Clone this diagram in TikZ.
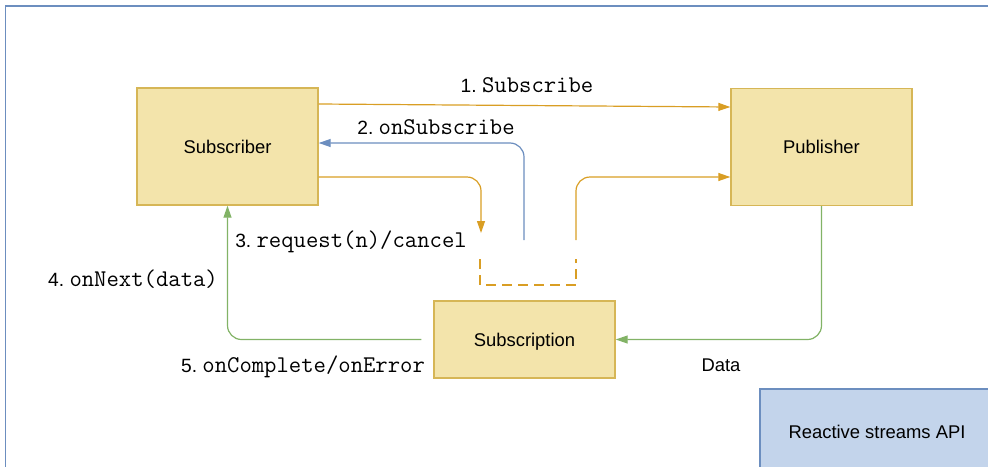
\documentclass[tikz,border=0pt]{standalone}
\usepackage{fontspec}
\setmainfont{Liberation Sans}
\usetikzlibrary{arrows.meta}
\definecolor{boxfill}{HTML}{F3E4AB}
\definecolor{boxline}{HTML}{D6B656}
\definecolor{apifill}{HTML}{C3D4EB}
\definecolor{apiline}{HTML}{6C8EBF}
\definecolor{callorange}{HTML}{D99E24}
\definecolor{backblue}{HTML}{6C8EBF}
\definecolor{datagreen}{HTML}{82B366}
\tikzset{
  actor/.style={draw=boxline, fill=boxfill, line width=0.7pt, minimum width=90.5pt, minimum height=58.5pt, text depth=0pt, font=\fontsize{9.2}{11}\selectfont},
  flow/.style={line width=0.6pt, rounded corners=7pt, -{Triangle[length=6pt,width=4pt]}},
  lbl/.style={font=\fontsize{9.6}{12}\selectfont, inner sep=0pt},
}
\newcommand{\step}[2]{#1\ {\fontsize{12}{13}\selectfont\texttt{#2}}}
\begin{document}
\begin{tikzpicture}[x=0.5pt,y=-0.5pt]
\clip (0,0) rectangle (988,466);
% Frame
\draw[apiline, line width=0.8pt] (5.5,480) -- (5.5,6) -- (1000,6);
% Boxes
\node[actor] (sub) at (227.5,146.5) {Subscriber};
\node[actor] (pub) at (821.5,147) {Publisher};
\node[actor, minimum height=38.5pt] (subn) at (524.5,339.5) {Subscription};
\node[draw=apiline, fill=apifill, line width=0.7pt, minimum width=117pt, minimum height=43pt, text depth=0pt, font=\fontsize{9.2}{11}\selectfont] (api) at (877,432) {Reactive streams API};
% Free ends
\coordinate (b2) at (524,240);
\coordinate (r3) at (481,233);
\coordinate (r4) at (576,240);
% 1. Subscribe
\draw[flow, callorange] (sub.east |- 0,104) -- (pub.west |- 0,107);
\node[lbl] at (527,85) {\step{1.}{Subscribe}};
% 2. onSubscribe
\draw[flow, backblue] (b2) |- (sub.east |- 0,143);
\node[lbl] at (436,127) {\step{2.}{onSubscribe}};
% 3. request / cancel
\draw[flow, callorange] (sub.east |- 0,177) -| (r3);
\draw[flow, callorange] (r4) |- (pub.west |- 0,177);
\draw[callorange, line width=0.6pt, dash pattern=on 5pt off 3pt] (480,259) |- (576,285) -- (576,259);
\node[lbl] at (351,242) {\step{3.}{request(n)/cancel}};
% Data
\draw[flow, datagreen] (pub.south) |- (subn.east);
\node[font=\fontsize{9.2}{11}\selectfont] at (721,365) {Data};
% 4. / 5.
\draw[flow, datagreen, shorten <=6pt] (subn.west) -| (sub.south);
\node[lbl] at (133,279) {\step{4.}{onNext(data)}};
\node[lbl] at (303,367) {\step{5.}{onComplete/onError}};
\end{tikzpicture}
\end{document}
